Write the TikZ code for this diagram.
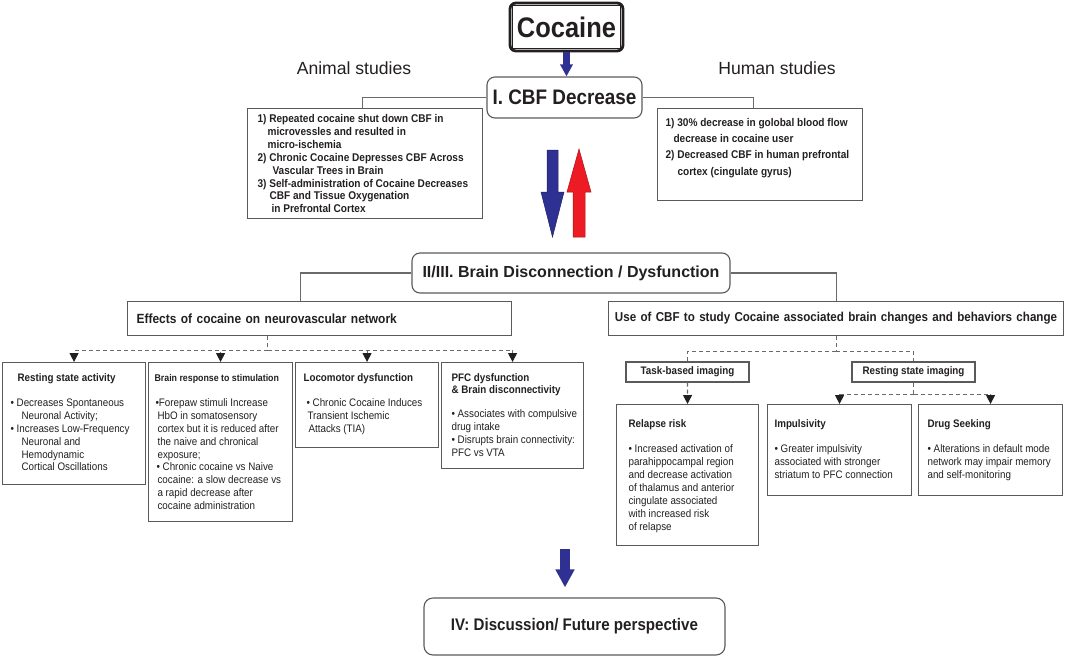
\documentclass[tikz,border=0pt]{standalone}
\usepackage{fontspec}
\setmainfont[FakeStretch=0.9]{Liberation Sans}
\newfontfamily\plainsans{Liberation Sans}
\usetikzlibrary{arrows.meta}

\definecolor{inkgray}{HTML}{231F20}
\definecolor{boxgray}{HTML}{5A5A5A}
\definecolor{linegray}{HTML}{6A6A6A}
\definecolor{arrowblue}{HTML}{2E3192}
\definecolor{arrowred}{HTML}{ED1C24}

\newcommand{\cell}[3]{\parbox[c][#2pt][t]{#1pt}{\begin{tabular}[t]{@{}l@{}}#3\end{tabular}}}

\tikzset{
  plainbox/.style={draw=boxgray, line width=1.1pt, text=inkgray, inner sep=0pt},
  roundbox/.style={plainbox, rounded corners=8pt},
  topbox/.style={plainbox, anchor=north west, font=\fontsize{11.2}{12.9}\selectfont\bfseries},
  lowbox/.style={plainbox, anchor=north west, inner xsep=8pt, inner ysep=10pt, font=\fontsize{10.9}{12.9}\selectfont},
  headbox/.style={plainbox, anchor=north west, minimum height=34pt, font=\fontsize{13.3}{15}\selectfont\bfseries},
  tagbox/.style={plainbox, minimum width=123pt, minimum height=20pt, font=\fontsize{10.9}{12}\selectfont\bfseries},
  link/.style={draw=linegray, line width=1.1pt},
  dlink/.style={link, dash pattern=on 4pt off 3pt},
  dashtip/.style={-{Triangle[width=9pt,length=9pt,color=inkgray]}},
  fatarrow/.style={draw=arrowblue, -{Triangle[width=#1pt,length=#1pt]}},
}

\begin{document}
\begin{tikzpicture}[x=1pt,y=-1pt]
\useasboundingbox (0,0) rectangle (1072,657);

\node[plainbox, draw=inkgray, line width=2.8pt, rounded corners=6pt, minimum width=113pt, minimum height=48pt,
      font=\fontsize{28.3}{30}\selectfont\bfseries] (cocaine) at (566.5,27) {Cocaine};
\draw[inkgray, line width=1.2pt] ([shift={(4,4)}]cocaine.north west) rectangle ([shift={(-4,-4)}]cocaine.south east);

\node[text=inkgray, font=\plainsans\fontsize{17.6}{20}\selectfont] (animal) at (354,68) {Animal studies};
\node[text=inkgray, font=\plainsans\fontsize{17.6}{20}\selectfont] (human) at (777,68) {Human studies};

\node[roundbox, minimum width=155pt, minimum height=41pt, font=\fontsize{21}{23}\selectfont\bfseries] (cbf) at (564.5,97.5) {I. CBF Decrease};
\draw[fatarrow=12, line width=7pt] (cocaine.south) -- (cocaine.south |- cbf.north);

\node[topbox, inner xsep=10pt, inner ysep=5pt] (animalbox) at (247,108) {\cell{215}{100}{%
  1) Repeated cocaine shut down CBF in\\
  \hspace*{10pt}microvessles and resulted in\\
  \hspace*{10pt}micro-ischemia\\
  2) Chronic Cocaine Depresses CBF Across\\
  \hspace*{15pt}Vascular Trees in Brain\\
  3) Self-administration of Cocaine Decreases\\
  \hspace*{12pt}CBF and Tissue Oxygenation\\
  \hspace*{14pt}in Prefrontal Cortex}};
\node[topbox, inner xsep=8pt, inner ysep=6.3pt, font=\fontsize{11.2}{16.3}\selectfont\bfseries] (humanbox) at (657,108) {\cell{189}{79.4}{%
  1) 30\% decrease in golobal blood flow\\
  \hspace*{8pt}decrease in cocaine user\\
  2) Decreased CBF in human prefrontal\\
  \hspace*{12pt}cortex (cingulate gyrus)}};

\draw[link] (cbf.west) -| ([xshift=-3pt]animalbox.north);
\draw[link] (cbf.east) -| ([xshift=-7pt]humanbox.north);

\filldraw[fill=arrowblue, draw=arrowblue!70!black, line width=0.5pt]
  (547,150) -- (558,150) -- (558,192) -- (564,192) -- (552.5,237) -- (541,192) -- (547,192) -- cycle;
\filldraw[fill=arrowred, draw=arrowred!70!black, line width=0.5pt]
  (573,237) -- (585,237) -- (585,192) -- (591,192) -- (579,149) -- (567,192) -- (573,192) -- cycle;

\node[roundbox, minimum width=318pt, minimum height=40pt, font=\plainsans\fontsize{16}{18}\selectfont\bfseries] (brain) at (571,273) {II/III. Brain Disconnection / Dysfunction};

\node[headbox, text width=366pt, inner xsep=9pt, align=left] (effects) at (127,301) {Effects of cocaine on neurovascular network};
\node[headbox, text width=453pt, inner xsep=1pt, align=center, font=\fontsize{12.9}{15}\selectfont\bfseries] (use) at (608,301) {Use of CBF to study Cocaine associated brain changes and behaviors change};

\draw[link] (brain.west) -| ([xshift=-19pt]effects.north);
\draw[link] (brain.east) -| (use.north);

\node[lowbox] (rsa) at (2,362) {\cell{127}{102}{%
  \hspace*{7pt}\bfseries Resting state activity\\[12pt]
  • Decreases Spontaneous\\
  \hspace*{11pt}Neuronal Activity;\\
  • Increases Low-Frequency\\
  \hspace*{11pt}Neuronal and\\
  \hspace*{11pt}Hemodynamic\\
  \hspace*{11pt}Cortical Oscillations}};
\node[lowbox, inner xsep=5pt] (brs) at (148,362) {\cell{134}{139}{%
  \hspace*{1pt}\bfseries\fontsize{9.8}{12.9}\selectfont Brain response to stimulation\\[12pt]
  \hspace*{2pt}•Forepaw stimuli Increase\\
  \hspace*{4pt}HbO in somatosensory\\
  \hspace*{4pt}cortex but it is reduced after\\
  \hspace*{4pt}the naive and chronical\\
  \hspace*{4pt}exposure;\\
  \hspace*{3pt}• Chronic cocaine vs Naive\\
  \hspace*{4pt}cocaine: a slow decrease vs\\
  \hspace*{4pt}a rapid decrease after\\
  \hspace*{4pt}cocaine administration}};
\node[lowbox] (loc) at (295,362) {\cell{127}{65}{%
  \bfseries Locomotor dysfunction\\[12pt]
  \hspace*{3pt}• Chronic Cocaine Induces\\
  \hspace*{4pt}Transient Ischemic\\
  \hspace*{5pt}Attacks (TIA)}};
\node[lowbox, inner xsep=8pt] (pfc) at (441,362) {\cell{126}{86}{%
  \hspace*{2pt}\bfseries PFC dysfunction\\[-1.4pt]
  \hspace*{2pt}\bfseries\& Brain disconnectivity\\[12pt]
  \hspace*{2pt}• Associates with compulsive\\
  \hspace*{2pt}drug intake\\
  \hspace*{2pt}• Disrupts brain connectivity:\\
  \hspace*{2pt}PFC vs VTA}};

\draw[dlink] ([xshift=-52pt]effects.south) -- ++(0,14) coordinate (leftbus);
\foreach \n in {rsa,brs,loc,pfc}
  \draw[dlink,dashtip] (leftbus) -| (\n.north);

\node[tagbox] (task) at (687.5,372) {Task-based imaging};
\node[tagbox] (rest) at (913.5,372) {Resting state imaging};

\draw[dlink] (use.south) -- ++(0,15) coordinate (rightbus);
\foreach \n in {task,rest}
  \draw[dlink] (rightbus) -| (\n.north);

\node[lowbox, inner xsep=12pt, inner ysep=13.5pt] (relapse) at (616,404) {\cell{118}{114}{%
  \bfseries Relapse risk\\[13pt]
  • Increased activation of\\
  parahippocampal region\\
  and decrease activation\\
  of thalamus and anterior\\
  cingulate associated\\
  with increased risk\\
  of relapse}};
\node[lowbox, inner xsep=7pt, inner ysep=13.5pt] (imp) at (767,404) {\cell{130}{64}{%
  \bfseries Impulsivity\\[13pt]
  • Greater impulsivity\\
  associated with stronger\\
  striatum to PFC connection}};
\node[lowbox, inner xsep=9pt, inner ysep=13.5pt] (drug) at (918,404) {\cell{126}{64}{%
  \bfseries Drug Seeking\\[13pt]
  • Alterations in default mode\\
  network may impair memory\\
  and self-monitoring}};

\draw[dlink,dashtip] (task.south) -- (relapse.north);
\draw[dlink] (rest.south) -- ++(0,12) coordinate (restbus);
\foreach \n in {imp,drug}
  \draw[dlink,dashtip] (restbus) -| (\n.north);

\node[roundbox, rounded corners=9pt, minimum width=301pt, minimum height=57pt, font=\fontsize{16.8}{19}\selectfont\bfseries] (future) at (574.5,626.5) {IV: Discussion/ Future perspective};
\coordinate (lowstart) at (565,549);
\draw[fatarrow=18, line width=10pt, shorten >=10pt] (lowstart) -- (lowstart |- future.north);

\end{tikzpicture}
\end{document}
